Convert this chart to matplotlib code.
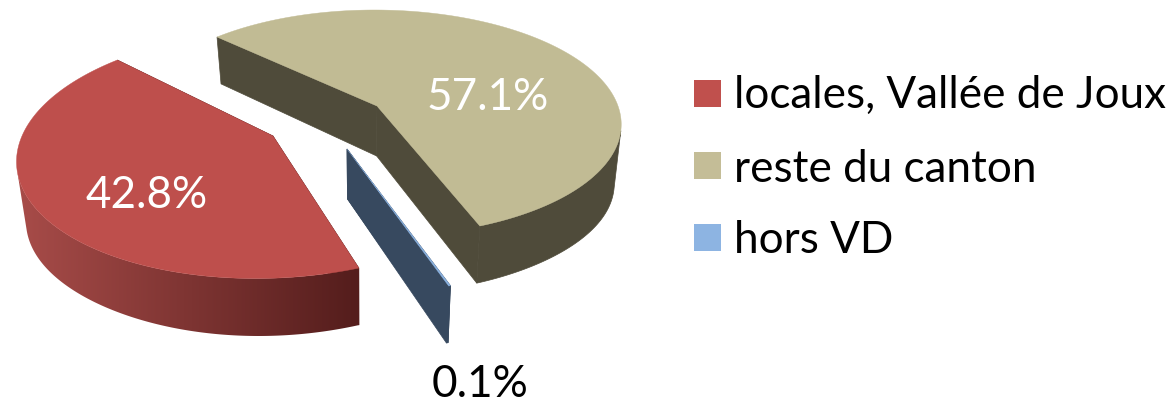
import numpy as np
import matplotlib
matplotlib.use("Agg")
import matplotlib.pyplot as plt
from matplotlib.patches import Polygon, Rectangle
from matplotlib.colors import LinearSegmentedColormap

categories = ["locales, Vallée de Joux", "reste du canton", "hors VD"]
shares = [42.8, 57.1, 0.1]
share_labels = ["42.8%", "57.1%", "0.1%"]

top_colors = ["#BE4F4C", "#C1BB94", "#8DB4E2"]
legend_colors = ["#C0504D", "#C4BD97", "#8DB4E2"]
wall_khaki = "#4F4B3A"
wall_blue = "#37495F"
rim_left, rim_right = "#A84C49", "#541D1C"

START_ANGLE = 136.4   # where the clockwise run of the khaki slice begins
# projection of each exploded slice: apex x,y; a, b, k, shear
PROJ = {
    0: (273, 137, 251, 121.4, 0.148, 0.059),
    1: (377, 107, 241, 110.4, 0.150, -0.012),
    2: (347, 150, 258, 126.0, 0.148, 0.011),
}
VZ_X = 365


def project(i, deg):
    cx, cy, a, b, k, s = PROJ[i]
    t = np.radians(deg)
    X, Y = np.cos(t), np.sin(t)
    w = 1 + k * Y
    return cx + a * (X + s * Y) / w, cy - b * Y / w, X, w


def lower(x, y, X, w):
    return x - 0.027 * (x - VZ_X), y + 49 / w + 9 * X ** 4


fig = plt.figure(figsize=(11.73, 4.02), dpi=100)
ax = fig.add_axes([0, 0, 1, 1])
ax.axis("off")

# slice spans, from the values (clockwise: khaki, blue, red)
deg = [v * 3.6 for v in shares]
a1_end = START_ANGLE - deg[1]
a2_end = a1_end - deg[2]
spans = {1: (START_ANGLE, a1_end), 2: (a1_end, a2_end), 0: (a2_end, a2_end - deg[0])}

rim_cmap = LinearSegmentedColormap.from_list("rim", [rim_left, rim_right])


def visible_run(x, y, xb, yb):
    """Indices of the arc whose outer wall faces the viewer (no fold in the strip)."""
    dx = np.diff(x)
    dy = np.diff(y)
    ex = 0.5 * ((xb - x)[:-1] + (xb - x)[1:])
    ey = 0.5 * ((yb - y)[:-1] + (yb - y)[1:])
    cross = dx * ey - dy * ex
    low = int(np.argmax(y[:-1]))
    sign = np.sign(cross[low])
    keep = np.sign(cross) == sign
    lo = low
    while lo > 0 and keep[lo - 1]:
        lo -= 1
    hi = low
    while hi < len(keep) - 1 and keep[hi + 1]:
        hi += 1
    return np.arange(lo, hi + 2)


def draw_slice(i, wall_col, gradient=False):
    a0, a1 = spans[i]
    n = max(int(abs(a1 - a0) * 2), 2)
    angs = np.linspace(a0, a1, n)
    x, y, X, w = project(i, angs)
    xb, yb = lower(x, y, X, w)
    cx, cy = PROJ[i][:2]
    bx = lower(cx, cy, 0.0, 1.0)[0]
    by = cy + 50
    for e in (0, -1):
        ax.add_patch(Polygon([(cx, cy), (x[e], y[e]), (xb[e], yb[e]), (bx, by)],
                             closed=True, fc=wall_col, ec=wall_col, lw=0.5, zorder=2))
    idx = visible_run(x, y, xb, yb)
    rim_pts = np.vstack([np.column_stack([x[idx], y[idx]]),
                         np.column_stack([xb[idx], yb[idx]])[::-1]])
    if gradient:
        rim = Polygon(rim_pts, closed=True, fc="none", ec="none", transform=ax.transData)
        ax.add_patch(rim)
        x0, x1 = rim_pts[:, 0].min(), rim_pts[:, 0].max()
        y0, y1 = rim_pts[:, 1].min(), rim_pts[:, 1].max()
        im = ax.imshow(np.linspace(0, 1, 256)[None, :], cmap=rim_cmap, aspect="auto",
                       extent=(x0, x1, y1, y0), zorder=2.1, interpolation="bilinear")
        im.set_clip_path(rim)
    else:
        ax.add_patch(Polygon(rim_pts, closed=True, fc=wall_col, ec=wall_col, lw=0.5, zorder=2))
    ax.add_patch(Polygon(np.vstack([[cx, cy], np.column_stack([x, y])]), closed=True,
                         fc=top_colors[i], ec=top_colors[i], lw=0.3, zorder=3))


draw_slice(1, wall_khaki)
draw_slice(0, "#541D1C", gradient=True)
draw_slice(2, wall_blue)

FONT = "Lato"
FS = 31.7
ax.text(147, 208, share_labels[0], color="white", fontsize=FS, family=FONT, ha="center", va="baseline", zorder=5)
ax.text(488, 110.5, share_labels[1], color="white", fontsize=FS, family=FONT, ha="center", va="baseline", zorder=5)
ax.text(480, 397.5, share_labels[2], color="black", fontsize=FS, family=FONT, ha="center", va="baseline", zorder=5)

legend_tops = [81, 153, 225]
baselines = [108, 182, 253]
for name, col, top, base in zip(categories, legend_colors, legend_tops, baselines):
    ax.add_patch(Rectangle((694, top), 27, 27, fc=col, ec="none", zorder=4))
    ax.text(734, base, name, color="black", fontsize=FS, family=FONT, ha="left", va="baseline", zorder=5)

ax.set_xlim(0, 1173)
ax.set_ylim(402, 0)
fig.savefig("out.png", dpi=100, facecolor="white")
